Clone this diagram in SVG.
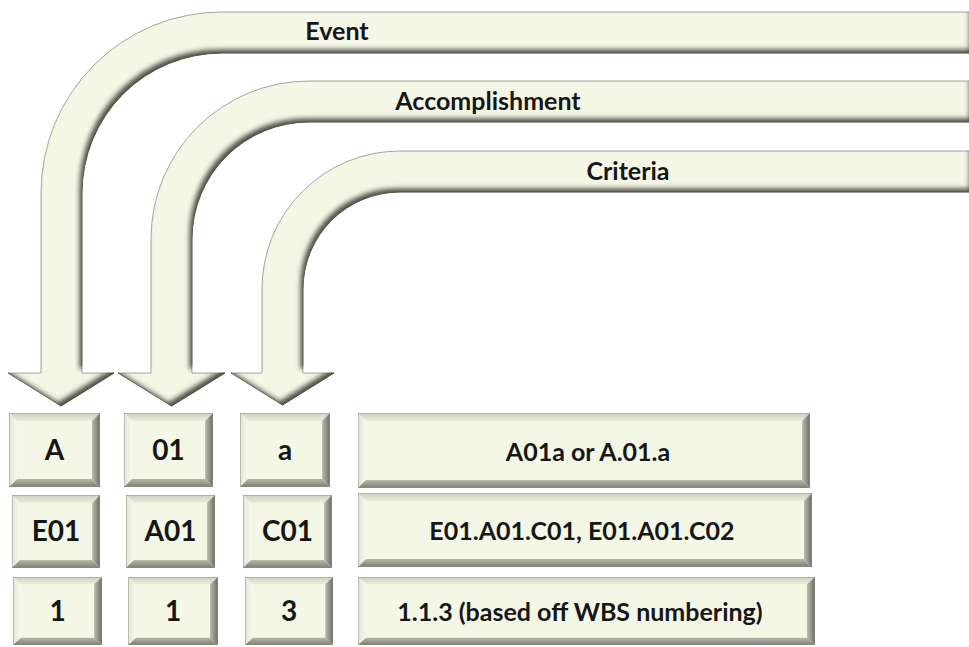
<svg xmlns="http://www.w3.org/2000/svg" xmlns:xlink="http://www.w3.org/1999/xlink" width="969" height="647" viewBox="0 0 969 647">
<style>
.arrow{fill:#f4f6e6;stroke:#9c9d8e;stroke-width:0.9;filter:url(#bev)}
.lbl{font-family:Lato,"Open Sans","Liberation Sans",sans-serif;font-weight:bold;fill:#161616;text-anchor:middle}
.t{font-size:25px}
.b{font-size:28px}
.w{font-size:25px}
</style>
<defs>
<filter id="bev" x="-3%" y="-3%" width="106%" height="106%" color-interpolation-filters="sRGB">
<feGaussianBlur in="SourceAlpha" stdDeviation="2.6" result="blur"/>
<feOffset in="blur" dx="-3" dy="-4" result="off"/>
<feComposite in="SourceAlpha" in2="off" operator="arithmetic" k2="1" k3="-1" result="edge"/>
<feFlood flood-color="#45463c" flood-opacity="0.95"/>
<feComposite in2="edge" operator="in" result="sh"/>
<feMerge><feMergeNode in="SourceGraphic"/><feMergeNode in="sh"/></feMerge>
</filter>
<linearGradient id="gTop" x1="0" y1="0" x2="0" y2="1"><stop offset="0" stop-color="#cfd1bf"/><stop offset="1" stop-color="#ebeddd"/></linearGradient>
<linearGradient id="gLeft" x1="0" y1="0" x2="1" y2="0"><stop offset="0" stop-color="#e2e4d4"/><stop offset="1" stop-color="#f8f9ef"/></linearGradient>
<linearGradient id="gRight" x1="0" y1="0" x2="1" y2="0"><stop offset="0" stop-color="#bcbdae"/><stop offset="1" stop-color="#6c6d64"/></linearGradient>
<linearGradient id="gBot" x1="0" y1="0" x2="0" y2="1"><stop offset="0" stop-color="#b8b9aa"/><stop offset="1" stop-color="#7c7d72"/></linearGradient>
<symbol id="btn" viewBox="0 0 90 74" preserveAspectRatio="none">
<rect x="0" y="0" width="90" height="74" fill="#f4f6e6"/>
<polygon points="0,0 90,0 82,8 8,8" fill="url(#gTop)"/>
<polygon points="0,0 8,8 8,66 0,74" fill="url(#gLeft)"/>
<polygon points="90,0 90,74 82,66 82,8" fill="url(#gRight)"/>
<polygon points="0,74 90,74 82,66 8,66" fill="url(#gBot)"/>
<rect x="0" y="0" width="90" height="74" fill="none" stroke="#8e8f82" stroke-width="1" vector-effect="non-scaling-stroke"/>
</symbol>
<symbol id="wbtn" viewBox="0 0 455 74" preserveAspectRatio="none">
<rect x="0" y="0" width="455" height="74" fill="#f4f6e6"/>
<polygon points="0,0 455,0 447,8 8,8" fill="url(#gTop)"/>
<polygon points="0,0 8,8 8,66 0,74" fill="url(#gLeft)"/>
<polygon points="455,0 455,74 447,66 447,8" fill="url(#gRight)"/>
<polygon points="0,74 455,74 447,66 8,66" fill="url(#gBot)"/>
<rect x="0" y="0" width="455" height="74" fill="none" stroke="#8e8f82" stroke-width="1" vector-effect="non-scaling-stroke"/>
</symbol>
</defs>
<rect width="969" height="647" fill="#ffffff"/>

<g id="connectors">
<g id="arrow-event">
<path class="arrow" d="M 972 12 H 222 A 181 181 0 0 0 41 193 V 373 H 8 L 61 406 L 114 373 H 82 V 193 A 140 140 0 0 1 222 53 H 972 Z"/>
<text class="lbl t" x="337" y="40">Event</text>
</g>
<g id="arrow-accomplishment">
<path class="arrow" d="M 972 81 H 309 A 158 158 0 0 0 151 239 V 373 H 118 L 171.5 406 L 225 373 H 192 V 239 A 117 117 0 0 1 309 122 H 972 Z"/>
<text class="lbl t" x="488" y="110">Accomplishment</text>
</g>
<g id="arrow-criteria">
<path class="arrow" d="M 972 151 H 400 A 138 138 0 0 0 262 289 V 373 H 231 L 282.5 405 L 334 373 H 303 V 289 A 97 97 0 0 1 400 192 H 972 Z"/>
<text class="lbl t" x="628" y="180">Criteria</text>
</g>
</g>

<g id="box-A"><use href="#btn" x="9" y="413" width="91" height="74"/><text class="lbl b" x="54.5" y="460">A</text></g>
<g id="box-01"><use href="#btn" x="124" y="413" width="89" height="74"/><text class="lbl b" x="168.5" y="460">01</text></g>
<g id="box-a"><use href="#btn" x="240" y="413" width="90" height="74"/><text class="lbl b" x="285" y="460">a</text></g>
<g id="box-row1"><use href="#wbtn" x="358" y="413" width="452" height="75"/><text class="lbl w" x="588" y="461">A01a or A.01.a</text></g>

<g id="box-E01"><use href="#btn" x="12" y="495" width="88" height="73"/><text class="lbl b" x="56" y="541">E01</text></g>
<g id="box-A01"><use href="#btn" x="126" y="495" width="89" height="73"/><text class="lbl b" x="170.5" y="541">A01</text></g>
<g id="box-C01"><use href="#btn" x="243" y="495" width="89" height="73"/><text class="lbl b" x="287.5" y="541">C01</text></g>
<g id="box-row2"><use href="#wbtn" x="358" y="493" width="454" height="74"/><text class="lbl w" x="582" y="540">E01.A01.C01, E01.A01.C02</text></g>

<g id="box-1a"><use href="#btn" x="13" y="577" width="89" height="68"/><text class="lbl b" x="57.5" y="621">1</text></g>
<g id="box-1b"><use href="#btn" x="128" y="577" width="90" height="68"/><text class="lbl b" x="173" y="621">1</text></g>
<g id="box-3"><use href="#btn" x="245" y="577" width="88" height="68"/><text class="lbl b" x="289" y="621">3</text></g>
<g id="box-row3"><use href="#wbtn" x="358" y="577" width="457" height="68"/><text class="lbl w" x="580" y="621">1.1.3 (based off WBS numbering)</text></g>
</svg>
